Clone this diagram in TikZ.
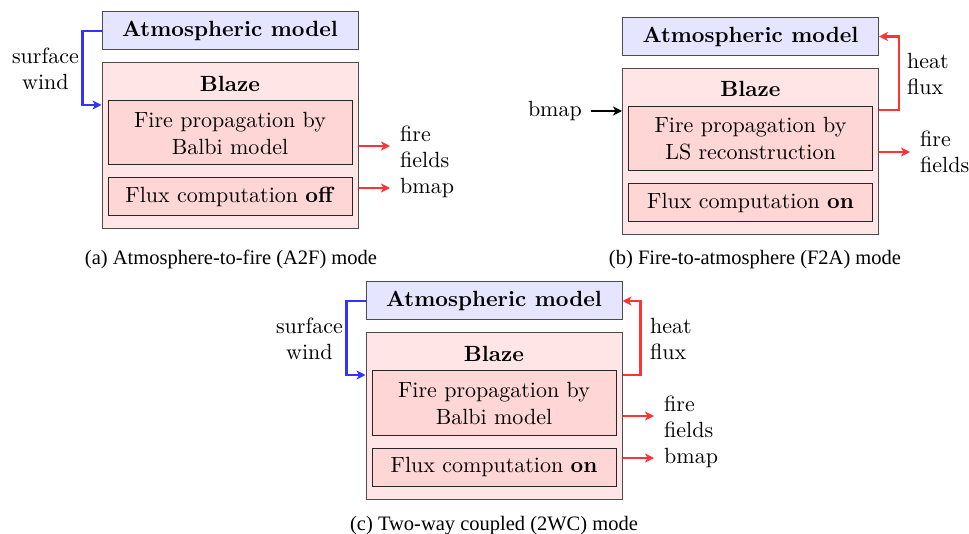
\documentclass[tikz,border=0pt]{standalone}
\usepackage{fontspec}
\setmainfont{lmroman10}[Extension=.otf, UprightFont=*-regular, BoldFont=*-bold, ItalicFont=*-italic, BoldItalicFont=*-bolditalic]
\newfontfamily\capfont{Liberation Serif}
\usetikzlibrary{arrows.meta}
\begin{document}
\begin{tikzpicture}[x=1pt,y=-1pt,
  atmbox/.style={draw=black!70, fill=blue!10, line width=1pt, minimum width=256pt, minimum height=38pt, inner sep=0pt, font=\fontsize{22}{27}\selectfont\bfseries},
  blazebox/.style={draw=black!70, fill=red!10, line width=1pt, minimum width=256pt, minimum height=166pt, inner sep=0pt},
  subbox/.style={draw=black!85, fill=red!16, line width=1pt, minimum width=244pt, inner sep=0pt, align=center, font=\fontsize{22}{27}\selectfont},
  blztitle/.style={font=\fontsize{22}{27}\selectfont\bfseries, inner sep=0pt},
  lbl/.style={font=\fontsize{22}{26.5}\selectfont, inner sep=0pt},
  captxt/.style={font=\capfont\fontsize{20.5}{24}\selectfont, inner sep=0pt, anchor=base},
  rarr/.style={draw=red!80, line width=2.2pt, -{Stealth[length=9pt,width=9pt,inset=2.5pt]}},
  barr/.style={draw=blue!80, line width=2.2pt, -{Stealth[length=9pt,width=9pt,inset=2.5pt]}},
  karr/.style={draw=black, line width=2.2pt, -{Stealth[length=9pt,width=9pt,inset=2.5pt]}}
]
\useasboundingbox (0,0) rectangle (969,534);

% ---------- (a) ----------
\node[atmbox] (a-atm) at (230,31) {Atmospheric model};
\node[blazebox] (a-blaze) at (230,146) {};
\node[blztitle] (a-title) at (230,84) {Blaze};
\node[subbox, minimum height=64pt] (a-fire) at (230,133) {Fire propagation by\\Balbi model};
\node[subbox, minimum height=38pt] (a-flux) at (230,197) {Flux computation \textbf{off}};
\node[lbl, align=center, anchor=east] (a-sw) at (79,69) {surface\\wind};
\node[lbl, align=left, anchor=west] (a-ff) at (400,147) {fire\\fields};
\node[lbl, anchor=west] (a-bm) at (400,188) {bmap};
\draw[barr] (a-atm.west) -- ++(-19,0) |- ([yshift=41pt]a-blaze.west);
\draw[rarr, shorten >=10pt] (a-blaze.east) -- (a-blaze.east -| a-ff.west);
\draw[rarr, shorten >=10pt] (a-blaze.east |- a-bm.west) -- (a-bm.west);
\node[captxt] (a-cap) at (231,265) {(a) Atmosphere-to-fire (A2F) mode};

% ---------- (b) ----------
\node[atmbox] (b-atm) at (750.5,36.5) {Atmospheric model};
\node[blazebox] (b-blaze) at (750.5,152) {};
\node[blztitle] (b-title) at (750.5,89) {Blaze};
\node[subbox, minimum height=64pt] (b-fire) at (750.5,139) {Fire propagation by\\LS reconstruction};
\node[subbox, minimum height=38pt] (b-flux) at (750.5,203) {Flux computation \textbf{on}};
\node[lbl, anchor=east] (b-bm) at (582,111) {bmap};
\node[lbl, align=left, anchor=west] (b-hf) at (907,74) {heat\\flux};
\node[lbl, align=left, anchor=west] (b-ff) at (920,152) {fire\\fields};
\draw[karr, shorten <=9pt] (b-bm.east) -- (b-blaze.west |- b-bm.east);
\draw[rarr] ([yshift=42pt]b-blaze.east) -- ++(20,0) |- (b-atm.east);
\draw[rarr, shorten >=10pt] (b-blaze.east) -- (b-blaze.east -| b-ff.west);
\node[captxt] (b-cap) at (755,265) {(b) Fire-to-atmosphere (F2A) mode};

% ---------- (c) ----------
\node[atmbox] (c-atm) at (494,301) {Atmospheric model};
\node[blazebox] (c-blaze) at (494,416) {};
\node[blztitle] (c-title) at (494,354) {Blaze};
\node[subbox, minimum height=64pt] (c-fire) at (494,403) {Fire propagation by\\Balbi model};
\node[subbox, minimum height=38pt] (c-flux) at (494,467) {Flux computation \textbf{on}};
\node[lbl, align=center, anchor=east] (c-sw) at (343,339) {surface\\wind};
\node[lbl, align=left, anchor=west] (c-hf) at (650,339) {heat\\flux};
\node[lbl, align=left, anchor=west] (c-ff) at (664,417) {fire\\fields};
\node[lbl, anchor=west] (c-bm) at (664,458) {bmap};
\draw[barr] (c-atm.west) -- ++(-19,0) |- ([yshift=41pt]c-blaze.west);
\draw[rarr] ([yshift=41pt]c-blaze.east) -- ++(18,0) |- (c-atm.east);
\draw[rarr, shorten >=10pt] (c-blaze.east) -- (c-blaze.east -| c-ff.west);
\draw[rarr, shorten >=10pt] (c-blaze.east |- c-bm.west) -- (c-bm.west);
\node[captxt] (c-cap) at (494,530) {(c) Two-way coupled (2WC) mode};
\end{tikzpicture}
\end{document}
